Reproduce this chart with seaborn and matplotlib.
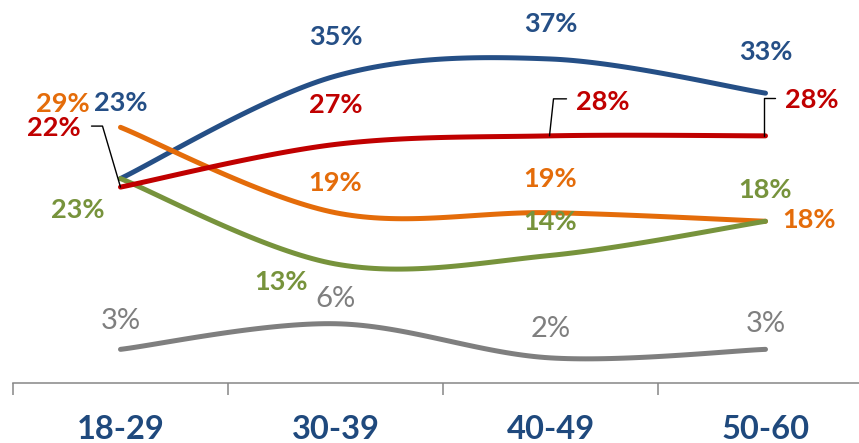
# age group line chart, smoothed excel style lines with data labels

import numpy as np
import pandas as pd
import seaborn as sns
import matplotlib.pyplot as plt
from matplotlib.lines import Line2D
from matplotlib.transforms import IdentityTransform

# data
ages = ["18-29", "30-39", "40-49", "50-60"]
blue = [23, 35, 37, 33]
red = [22, 27, 28, 28]
orange = [29, 19, 19, 18]
green = [23, 13, 14, 18]
gray = [3, 6, 2, 3]

# drawing order (last on top)
series = {"gray": gray, "blue": blue, "orange": orange, "green": green, "red": red}
colors = {"blue": "#254F86", "red": "#C00000", "orange": "#E46C0A",
          "green": "#77933C", "gray": "#7F7F7F"}

# label offsets from each point, in pixels (x right, y up)
label_offsets = {
    "blue": [(0, 78), (0, 41), (0, 37), (0, 43)],
    "red": [(-67, 61), (0, 41), (52, 36), (46, 38)],
    "orange": [(-58, 25), (0, 32), (0, 36), (44, 3)],
    "green": [(-43, -29), (-54, -16), (0, 35), (0, 33)],
    "gray": [(0, 31), (0, 27), (0, 31), (0, 28)],
}
# leader lines for the red labels: point index -> vertices (pixels from point)
leaders = {0: [(-29, 61), (-18, 61), (0, 0)],
           2: [(16, 37), (3, 37), (-1, 0)],
           3: [(10, 38), (-1, 38), (-1, 0)]}


def smooth(vals, n=40):
    # bezier segments with catmull-rom handles, like excel's smoothed line
    p = np.column_stack([np.arange(len(vals)), vals]).astype(float)
    ext = np.vstack([p[0], p, p[-1]])
    out = []
    t = np.linspace(0, 1, n)[:, None]
    for i in range(len(p) - 1):
        p0, p1 = ext[i + 1], ext[i + 2]
        c1 = p0 + (ext[i + 2] - ext[i]) / 6
        c2 = p1 - (ext[i + 3] - ext[i + 1]) / 6
        seg = (1 - t) ** 3 * p0 + 3 * (1 - t) ** 2 * t * c1 + 3 * (1 - t) * t ** 2 * c2 + t ** 3 * p1
        out.append(seg if i == 0 else seg[1:])
    return np.vstack(out)


frames = []
for name, vals in series.items():
    xy = smooth(vals)
    frames.append(pd.DataFrame({"x": xy[:, 0], "y": xy[:, 1], "series": name}))
df = pd.concat(frames, ignore_index=True)

sns.set_style("white")
plt.rcParams["font.family"] = ["Lato", "DejaVu Sans"]

fig = plt.figure(figsize=(8.59, 4.43), dpi=100)
ax = fig.add_axes([13 / 859, 60 / 443, 846 / 859, 383 / 443])

sns.lineplot(data=df, x="x", y="y", hue="series", hue_order=list(series.keys()),
             palette=colors, sort=False, estimator=None, linewidth=3.6,
             solid_capstyle="round", legend=False, ax=ax)

ax.set_xlim(-0.5, -0.5 + 846 / 215)
ax.set_ylim(-0.94, -0.94 + 383 / 8.54)

# labels
for name, vals in series.items():
    bold = name != "gray"
    for i, v in enumerate(vals):
        dx, dy = label_offsets[name][i]
        ax.annotate(f"{v}%", (i, v), xytext=(dx * 0.72, dy * 0.72),
                    textcoords="offset points", ha="center", va="center_baseline",
                    fontsize=19.5 if bold else 21, color=colors[name],
                    fontweight="bold" if bold else "normal")

# red leader lines
for i, verts in leaders.items():
    px, py = ax.transData.transform((i, red[i]))
    xs = [px + dx for dx, dy in verts]
    ys = [py + dy for dx, dy in verts]
    fig.add_artist(Line2D(xs, ys, color="black", linewidth=1.0,
                          transform=IdentityTransform()))

# axes styling
for s in ["left", "right", "top"]:
    ax.spines[s].set_visible(False)
ax.spines["bottom"].set_color("#868686")
ax.spines["bottom"].set_linewidth(1.1)
ax.set_yticks([])
ax.set_xticks([-0.5, 0.5, 1.5, 2.5])
ax.set_xticklabels([])
ax.tick_params(axis="x", which="major", bottom=True, direction="out", length=8.6,
               width=1.1, color="#868686")
ax.set_xticks(range(len(ages)), minor=True)
ax.set_xticklabels(ages, minor=True, fontsize=23.5, fontweight="bold", color="#1F497D")
ax.tick_params(axis="x", which="minor", bottom=True, length=0, pad=23)
ax.set_xlabel("")
ax.set_ylabel("")

fig.savefig("out.png", dpi=100)
